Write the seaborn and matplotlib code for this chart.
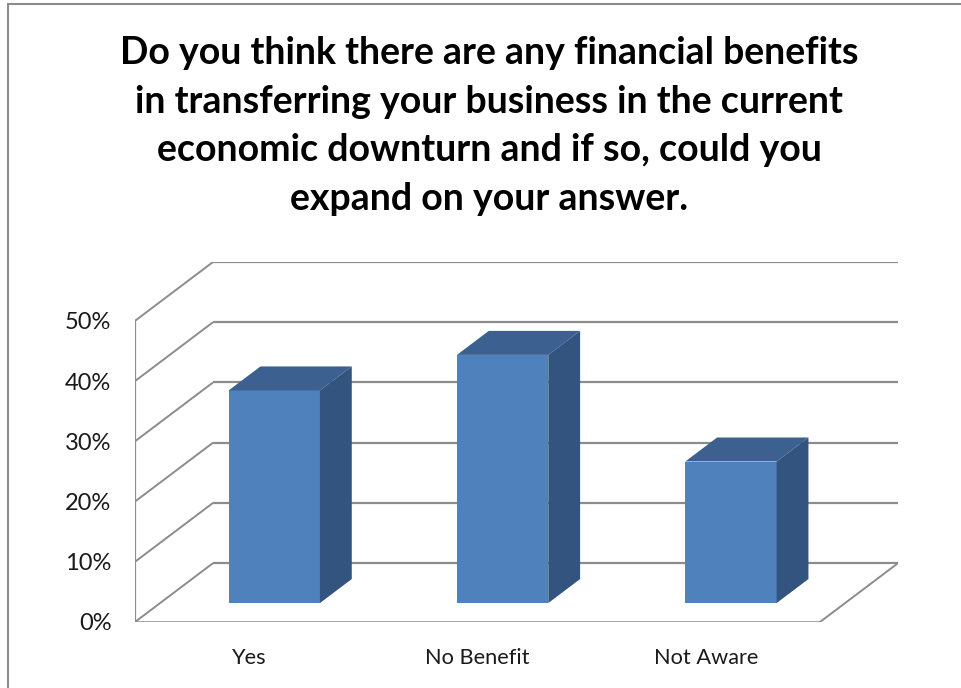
import matplotlib
matplotlib.use("Agg")
import matplotlib.pyplot as plt
from matplotlib.patches import Polygon, Rectangle
from matplotlib.transforms import Affine2D
import seaborn as sns
import pandas as pd

# Survey answers (share of respondents, %)
categories = ["Yes", "No Benefit", "Not Aware"]
shares = [35.3, 41.2, 23.5]
tick_values = [0, 10, 20, 30, 40, 50]
tick_labels = ["0%", "10%", "20%", "30%", "40%", "50%"]
title = ("Do you think there are any financial benefits\n"
         "in transferring your business in the current\n"
         "economic downturn and if so, could you\n"
         "expand on your answer.")

FRONT = "#4F81BD"
TOP = "#3C6190"
SIDE = "#33547F"
GRID = "#8C8C8C"

# oblique depth vector of the 3-D box, in data units (categories, percent)
DX, DY = 0.3416, 9.77
# bars occupy this slice of the depth
T0, T1 = 0.322, 0.73

sns.set_theme(style="white")
plt.rcParams["font.family"] = ["Lato", "DejaVu Sans"]

W, H = 961, 688
fig = plt.figure(figsize=(W / 100, H / 100), dpi=100)
ax = fig.add_axes([135 / W, 1 - 622 / H, (898 - 135) / W, (622 - 262) / H])

df = pd.DataFrame({"answer": categories, "share": shares})
sns.barplot(data=df, x="answer", y="share", width=0.4, color=FRONT,
            saturation=1, ax=ax, zorder=5, linewidth=0)
ax.set_xlim(-0.5, 2.5 + DX)
ax.set_ylim(0, 50 + DY)

# push the front faces back into the box
shift = Affine2D().translate(T0 * DX, T0 * DY) + ax.transData
for p in ax.patches:
    p.set_transform(shift)

# walls and floor
for v in tick_values:
    ax.plot([-0.5, -0.5 + DX], [v, v + DY], color=GRID, lw=1.4, zorder=1,
            solid_capstyle="butt")
    ax.plot([-0.5 + DX, 2.5 + DX], [v + DY, v + DY], color=GRID, lw=1.6,
            zorder=1, solid_capstyle="butt")
ax.plot([-0.5, -0.5], [0, 50], color=GRID, lw=1.6, zorder=1)
ax.plot([-0.5, 2.5], [0, 0], color=GRID, lw=1.8, zorder=1)
ax.plot([2.5, 2.5 + DX], [0, DY], color=GRID, lw=1.4, zorder=1)

# top and side faces of each bar
ddx, ddy = (T1 - T0) * DX, (T1 - T0) * DY
for p in list(ax.patches):
    x0 = p.get_x() + T0 * DX
    x1 = x0 + p.get_width()
    y0 = T0 * DY
    h = p.get_height()
    top = Polygon([(x0, y0 + h), (x1, y0 + h), (x1 + ddx, y0 + h + ddy),
                   (x0 + ddx, y0 + h + ddy)], closed=True, fc=TOP, ec="none",
                  zorder=5)
    side = Polygon([(x1, y0), (x1, y0 + h), (x1 + ddx, y0 + h + ddy),
                    (x1 + ddx, y0 + ddy)], closed=True, fc=SIDE, ec="none",
                   zorder=5)
    ax.add_patch(top)
    ax.add_patch(side)

sns.despine(ax=ax, left=True, bottom=True)
ax.set_xlabel("")
ax.set_ylabel("")
ax.set_yticks(tick_values)
ax.set_yticklabels(tick_labels, fontsize=17, color="#1a1a1a")
ax.tick_params(axis="y", length=0, pad=17)
ax.tick_params(axis="x", length=0, pad=19, labelsize=15.7, labelcolor="#1a1a1a")
ax.patch.set_alpha(0)

fig.text(489 / W, 1 - 126 / H, title, ha="center", va="center",
         multialignment="center", fontsize=27, fontweight="bold",
         linespacing=1.53, color="black")

# chart frame
fig.patches.append(Rectangle((8 / W, -0.1), 1.2, 1 - 4 / H + 0.1,
                             transform=fig.transFigure, fill=False,
                             ec="#8C8C8C", lw=1.5))

fig.savefig("out.png", dpi=100)
